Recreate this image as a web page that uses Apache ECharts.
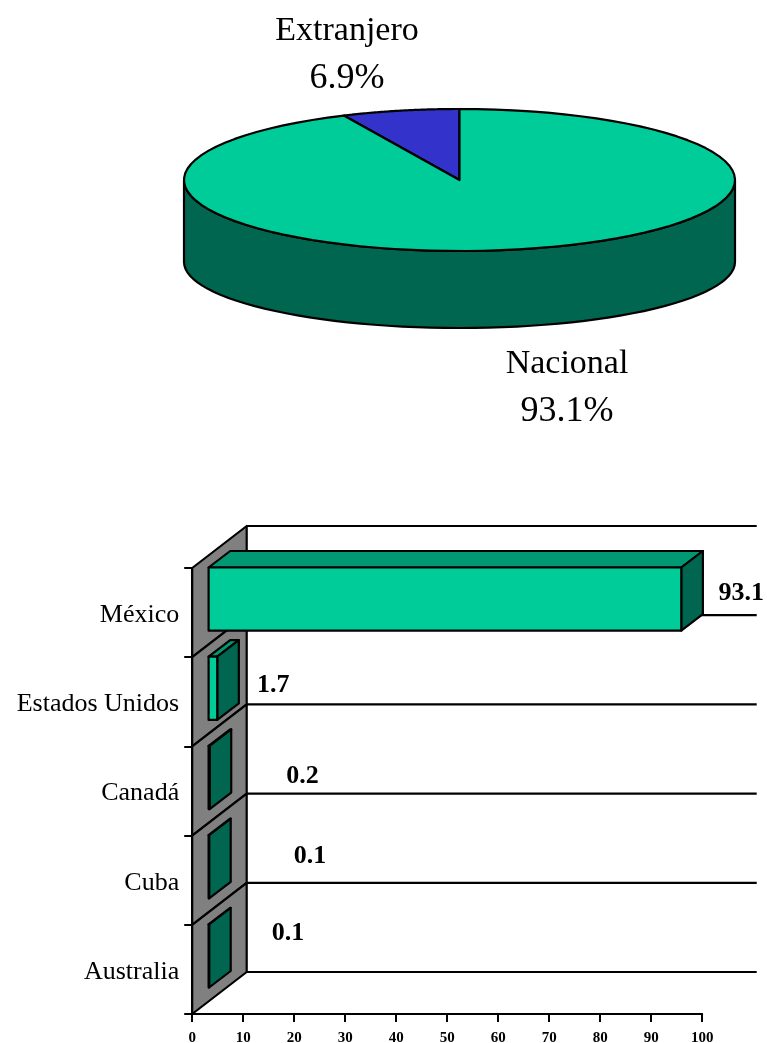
<!DOCTYPE html>
<html>
<head>
<meta charset="utf-8">
<style>html,body{margin:0;padding:0;background:#fff}#c{width:767px;height:1043px}</style>
<script src="https://cdn.jsdelivr.net/npm/echarts@6/dist/echarts.min.js"></script>
</head>
<body>
<div id="c"></div>
<script>
// Data
var pieNames = ['Extranjero', 'Nacional'];
var pieValues = [6.9, 93.1];
var categories = ['México', 'Estados Unidos', 'Canadá', 'Cuba', 'Australia'];
var barValues = [93.1, 1.7, 0.2, 0.1, 0.1];
var barLabels = ['93.1', '1.7', '0.2', '0.1', '0.1'];
var xTicks = { min: 0, max: 100, interval: 10 };

// Layout (label placement, per category / per slice)
var labelNudge = [[60, -19], [56, -17], [93, -15], [101, -24], [79, -36]];
var pieLabelPos = [[347, 31, 347, 79], [567, 364.5, 567, 411.5]];
var SERIF = '"Liberation Serif","Times New Roman",serif';
var TOP = '#00CC99', SIDE = '#006650', ROOF = '#009973', BLUE = '#3333CC', WALL = '#808080', INK = '#000';
var WALLD = [54.5, -42], BARO = [16.4, -13.5], BARD = [21.6, -16.5], BARINSET = 13, BARSCALE = 0.9955;
var P = { cx: 459.5, cy: 180, rx: 275.5, ry: 71, sideCy: 262, sideRy: 66 };

function ell(cx, cy, rx, ry, t) { return [cx + rx * Math.sin(t), cy - ry * Math.cos(t)]; }
function poly(points, fill, z) {
  return { type: 'polygon', z2: z || 0, shape: { points: points },
    style: { fill: fill, stroke: INK, lineWidth: 2.2, lineJoin: 'round' } };
}
function line(a, b, z) {
  return { type: 'line', z2: z || 0, shape: { x1: a[0], y1: a[1], x2: b[0], y2: b[1] },
    style: { stroke: INK, lineWidth: 2.2 } };
}
var TAU = Math.PI * 2;
var pieTotal = pieValues.reduce(function (a, b) { return a + b; }, 0);

function renderSlice(params, api) {
  var i = params.dataIndex;
  // Extranjero ends at 12 o'clock, Nacional runs clockwise from it
  var share = api.value(0) / pieTotal * TAU;
  var start = i === 0 ? -share : 0;
  var end = i === 0 ? 0 : share;
  var pts = [[P.cx, P.cy]];
  for (var s = 0; s <= 90; s++) {
    var t = start + (end - start) * s / 90;
    pts.push(ell(P.cx, P.cy, P.rx, P.ry, t));
  }
  var children = [];
  if (i === 1) {
    // visible rim of the disc: the front half
    var rim = [];
    for (s = 0; s <= 60; s++) rim.push(ell(P.cx, P.cy, P.rx, P.ry, Math.PI / 2 + Math.PI * s / 60));
    for (s = 60; s >= 0; s--) rim.push(ell(P.cx, P.sideCy, P.rx, P.sideRy, Math.PI / 2 + Math.PI * s / 60));
    children.push(poly(rim, SIDE, 1));
  }
  children.push(poly(pts, i === 0 ? BLUE : TOP, 2));
  var lp = pieLabelPos[i];
  children.push({ type: 'text', z2: 5, style: { text: pieNames[i], x: lp[0], y: lp[1], align: 'center', verticalAlign: 'middle', font: '34px ' + SERIF, fill: INK } });
  children.push({ type: 'text', z2: 5, style: { text: api.value(0) + '%', x: lp[2], y: lp[3], align: 'center', verticalAlign: 'middle', font: '36px ' + SERIF, fill: INK } });
  return { type: 'group', children: children };
}

function renderWall(params, api) {
  var i = api.value(1);
  var c = api.coord([0, i]);
  var h = api.size([0, 1])[1];
  var x100 = api.coord([xTicks.max, i])[0];
  var a = [c[0], c[1] - h / 2], b = [c[0], c[1] + h / 2];
  var a2 = [a[0] + WALLD[0], a[1] + WALLD[1]], b2 = [b[0] + WALLD[0], b[1] + WALLD[1]];
  var kids = [
    poly([a, a2, b2, b], WALL, 1),
    line(b2, [x100 + WALLD[0], b2[1]], 2)
  ];
  if (i === 0) kids.push(line(a2, [x100 + WALLD[0], a2[1]], 2));
  return { type: 'group', children: kids };
}

function renderBar(params, api) {
  var i = api.value(1), v = api.value(0);
  var c0 = api.coord([0, i]), c1 = api.coord([v, i]);
  var h = api.size([0, 1])[1];
  var top = c0[1] - h / 2 + BARO[1] + BARINSET;
  var bot = c0[1] + h / 2 + BARO[1] - BARINSET;
  var x0 = c0[0] + BARO[0], x1 = x0 + (c1[0] - c0[0]) * BARSCALE;
  var dx = BARD[0], dy = BARD[1];
  var n = labelNudge[i];
  return { type: 'group', children: [
    poly([[x0, top], [x0 + dx, top + dy], [x1 + dx, top + dy], [x1, top]], ROOF, 1),
    poly([[x1, top], [x1 + dx, top + dy], [x1 + dx, bot + dy], [x1, bot]], SIDE, 1),
    poly([[x0, top], [x1, top], [x1, bot], [x0, bot]], TOP, 2),
    { type: 'text', z2: 5, style: { text: barLabels[i], x: x1 + n[0], y: c0[1] + n[1], align: 'center', verticalAlign: 'middle', font: 'bold 26px ' + SERIF, fill: INK } }
  ] };
}

var chart = echarts.init(document.getElementById('c'), null, { renderer: 'canvas' });
chart.setOption({
  animation: false,
  backgroundColor: '#fff',
  grid: { left: 192.2, top: 568, width: 510, height: 446, outerBoundsMode: 'none' },
  xAxis: {
    type: 'value', min: xTicks.min, max: xTicks.max, interval: xTicks.interval,
    splitLine: { show: false },
    axisLine: { show: true, lineStyle: { color: INK, width: 2 } },
    axisTick: { show: true, length: 8, lineStyle: { color: INK, width: 2 } },
    axisLabel: { color: INK, fontFamily: SERIF, fontWeight: 'bold', fontSize: 15, margin: 17 }
  },
  yAxis: {
    type: 'category', inverse: true, data: categories,
    axisLine: { show: true, lineStyle: { color: INK, width: 2 } },
    axisTick: { show: true, length: 8, lineStyle: { color: INK, width: 2 } },
    axisLabel: { color: INK, fontFamily: SERIF, fontSize: 26, margin: 13, verticalAlign: 'top', lineHeight: 5 }
  },
  series: [
    { type: 'custom', coordinateSystem: 'none', renderItem: renderSlice, z: 3, silent: true,
      encode: { value: 0 }, data: pieValues.map(function (v) { return [v]; }) },
    { type: 'custom', renderItem: renderWall, z: 1, silent: true, clip: false,
      encode: { x: 0, y: 1 }, data: categories.map(function (c, i) { return [0, i]; }) },
    { type: 'custom', renderItem: renderBar, z: 4, silent: true, clip: false,
      encode: { x: 0, y: 1 }, data: barValues.map(function (v, i) { return [v, i]; }) }
  ]
});
</script>
</body>
</html>
